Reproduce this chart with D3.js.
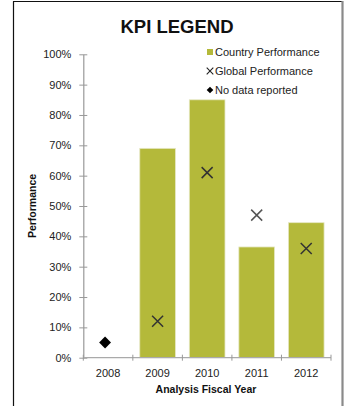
<!DOCTYPE html>
<html>
<head>
<meta charset="utf-8">
<script src="https://cdn.jsdelivr.net/npm/d3@7"></script>
<style>
  html, body { margin: 0; padding: 0; background: #fff; }
  svg { display: block; font-family: "Liberation Sans", Arial, Helvetica, sans-serif; }
</style>
</head>
<body>
<svg id="chart" width="350" height="406"></svg>
<script>
// Fiscal years on the x axis
const years = ["2008", "2009", "2010", "2011", "2012"];
// Country performance (bars); null where no data was reported
const countryPerformance = [null, 0.69, 0.85, 0.365, 0.445];
// Global performance (cross markers)
const globalPerformance = [null, 0.12, 0.61, 0.47, 0.36];
// Years with no data reported (diamond markers)
const noDataYears = ["2008"];
const noDataValues = [0.05];
// Y tick values and labels
const yTicks = [0, 0.1, 0.2, 0.3, 0.4, 0.5, 0.6, 0.7, 0.8, 0.9, 1.0];
const legendLabels = ["Country Performance", "Global Performance", "No data reported"];

const svg = d3.select("#chart");

// Frame around the chart
svg.append("line").attr("x1", 13.5).attr("x2", 13.5).attr("y1", 1.5).attr("y2", 406)
  .attr("stroke", "#111").attr("stroke-width", 1.2);
svg.append("line").attr("x1", 13).attr("x2", 343).attr("y1", 1.5).attr("y2", 1.5)
  .attr("stroke", "#111").attr("stroke-width", 1.2);
svg.append("line").attr("x1", 342.5).attr("x2", 342.5).attr("y1", 1).attr("y2", 406)
  .attr("stroke", "#8a8a8a").attr("stroke-width", 2.2);

const x = d3.scaleBand().domain(years).range([83.3, 331]).paddingInner(0.28).paddingOuter(0.14);
const y = d3.scaleLinear().domain([0, 1]).range([357.7, 54.3]);
const xc = d => x(d) + x.bandwidth() / 2;

// Title
svg.append("text").attr("x", 177).attr("y", 33).attr("text-anchor", "middle")
  .attr("font-size", 18.5).attr("font-weight", "bold").attr("fill", "#111").text("KPI LEGEND");

// Y axis
const yAxis = d3.axisLeft(y).tickValues(yTicks).tickFormat(d3.format(".0%"))
  .tickSizeInner(4).tickSizeOuter(0).tickPadding(8);
const gy = svg.append("g").attr("transform", "translate(83.3,0)").call(yAxis);
gy.select(".domain").attr("stroke", "#999").attr("stroke-width", 1.2);
gy.selectAll(".tick line").attr("stroke", "#999").attr("x1", 4).attr("x2", -4);
gy.selectAll(".tick text").attr("font-size", 11).attr("fill", "#222")
  .attr("font-family", "Liberation Sans, Arial, sans-serif");

// Bars
svg.append("g").selectAll("rect")
  .data(years.map((yr, i) => ({ yr, v: countryPerformance[i] })).filter(d => d.v != null))
  .join("rect")
  .attr("x", d => x(d.yr)).attr("width", x.bandwidth())
  .attr("y", d => y(d.v)).attr("height", d => y(0) - y(d.v))
  .attr("fill", "#b4b93a").attr("stroke", "#e6e8c4").attr("stroke-width", 0.8);

// X axis with ticks on category boundaries
const gx = svg.append("g").attr("transform", `translate(0,${y(0)})`);
gx.append("line").attr("x1", 83.3).attr("x2", 331).attr("stroke", "#aaa").attr("stroke-width", 1.2);
const boundaries = years.map(d => x(d) - x.step() * x.paddingInner() / 2);
boundaries.push(331);
boundaries[0] = 83.3;
gx.selectAll("line.tk").data(boundaries).join("line").attr("class", "tk")
  .attr("x1", d => d).attr("x2", d => d).attr("y1", -3).attr("y2", 3)
  .attr("stroke", "#999").attr("stroke-width", 1);
gx.selectAll("text").data(years).join("text")
  .attr("x", d => xc(d)).attr("y", 19).attr("text-anchor", "middle")
  .attr("font-size", 11).attr("fill", "#222").text(d => d);

// Axis titles
svg.append("text").attr("x", 206).attr("y", 393).attr("text-anchor", "middle")
  .attr("font-size", 10.5).attr("font-weight", "bold").attr("fill", "#111").text("Analysis Fiscal Year");
svg.append("text").attr("transform", "translate(36,206) rotate(-90)").attr("text-anchor", "middle")
  .attr("font-size", 10.5).attr("font-weight", "bold").attr("fill", "#111").text("Performance");

// Global performance cross markers
const cross = (g, cx, cy, r, color, w) => {
  g.append("path").attr("d", `M${cx - r},${cy - r}L${cx + r},${cy + r}M${cx - r},${cy + r}L${cx + r},${cy - r}`)
    .attr("stroke", color).attr("stroke-width", w).attr("fill", "none");
};
const gm = svg.append("g");
years.forEach((yr, i) => {
  const v = globalPerformance[i];
  if (v == null) return;
  const onBar = countryPerformance[i] != null && countryPerformance[i] > v;
  cross(gm, xc(yr), y(v), 5.5, onBar ? "#333" : "#555", 1.5);
});

// No-data diamond markers
const diamond = d3.symbol().type(d3.symbolDiamond2).size(90);
svg.append("g").selectAll("path").data(noDataYears).join("path")
  .attr("transform", (d, i) => `translate(${xc(d) - 3},${y(noDataValues[i])})`)
  .attr("d", diamond).attr("fill", "#000");

// Legend
const lg = svg.append("g");
const rowY = [52, 71, 90];
lg.append("rect").attr("x", 207).attr("y", rowY[0] - 3).attr("width", 6).attr("height", 6).attr("fill", "#b4b93a");
cross(lg, 210, rowY[1], 3.3, "#222", 1.1);
lg.append("path").attr("transform", `translate(210,${rowY[2]})`)
  .attr("d", d3.symbol().type(d3.symbolDiamond2).size(28)).attr("fill", "#000");
lg.selectAll("text").data(legendLabels).join("text")
  .attr("x", 215).attr("y", (d, i) => rowY[i] + 4).attr("font-size", 11).attr("fill", "#222").text(d => d);
</script>
</body>
</html>
